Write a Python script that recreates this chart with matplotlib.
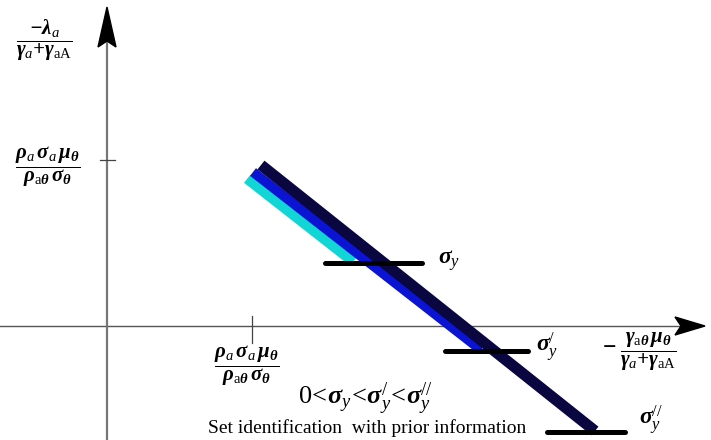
import matplotlib
matplotlib.use("Agg")
import matplotlib.pyplot as plt
from matplotlib.patches import Polygon

plt.rcParams['mathtext.fontset'] = 'custom'
plt.rcParams['mathtext.rm'] = 'Liberation Serif'
plt.rcParams['mathtext.it'] = 'Liberation Serif:italic'
plt.rcParams['mathtext.bf'] = 'Liberation Serif:bold:italic'
plt.rcParams['font.family'] = 'Liberation Serif'

# set-identification segments (origin at the axes crossing)
seg_names = ['sigma_y', 'sigma_y_prime', 'sigma_y_dprime']
seg_x0 = [140, 146, 154]
seg_y0 = [147, 154, 161]
seg_x1 = [246, 374, 488]
seg_y1 = [64, -24, -105]
seg_colors = ['#12d6d6', '#0c14d4', '#0a0640']
seg_widths = [7.0, 7.0, 8.0]

# horizontal bars for the three sigma levels
bar_x0 = [218, 338, 440]
bar_x1 = [315, 421, 518]
bar_y = [63, -25, -106]
bar_label_dx = [16, 8, 14]
bar_label_dy = [2, 4, 12]
bar_labels = [r'$\mathbf{\sigma}_{\mathit{y}}$',
              r"$\mathbf{\sigma}_{\mathit{y}}^{\mathrm{/}}$",
              r"$\mathbf{\sigma}_{\mathit{y}}^{\mathrm{//}}$"]

xtick_pos = 145
ytick_pos = 166

fig = plt.figure(figsize=(7.11, 4.40), dpi=100)
ax = fig.add_axes([0, 0, 1, 1])
ax.set_xlim(-107, 604)
ax.set_ylim(-114, 326)
ax.axis('off')

# axes
ax.plot([-107, 575], [0, 0], color='#555555', lw=1.0, zorder=1)
ax.plot([0, 0], [-114, 285], color='#777777', lw=1.6, zorder=1)
ax.add_patch(Polygon([[598, 0], [568, 9], [574, 0], [568, -9]], closed=True,
                     color='black', zorder=3))
ax.add_patch(Polygon([[0, 319], [-9, 279], [0, 285], [9, 279]], closed=True,
                     color='black', zorder=3))

# ticks
ax.plot([-7, 8], [ytick_pos, ytick_pos], color='#444444', lw=0.9)
ax.plot([xtick_pos, xtick_pos], [10, -17], color='#444444', lw=0.9)

# segments
for x0, y0, x1, y1, c, w in zip(seg_x0, seg_y0, seg_x1, seg_y1, seg_colors, seg_widths):
    ax.plot([x0, x1], [y0, y1], color=c, lw=w, solid_capstyle='butt', zorder=2)

for x0, x1, y, lab, dx, dy in zip(bar_x0, bar_x1, bar_y, bar_labels, bar_label_dx, bar_label_dy):
    ax.plot([x0, x1], [y, y], color='black', lw=3.6, solid_capstyle='round', zorder=4)
    ax.text(x1 + dx, y + dy, lab, fontsize=17, ha='left', va='center')

# axis labels
ylab = r'$\dfrac{\mathbf{-\lambda}_{\mathit{a}}}{\mathbf{\gamma}_{\mathit{a}}\mathbf{+\gamma}_{\mathrm{aA}}}$'
tlab = r'$\dfrac{\mathbf{\rho}_{\mathit{a}}\,\mathbf{\sigma}_{\mathit{a}}\,\mathbf{\mu_\theta}}{\mathbf{\rho}_{\mathrm{a}\mathbf{\theta}}\,\mathbf{\sigma_\theta}}$'
xlab = r'$\dfrac{\mathbf{\gamma}_{\mathrm{a}\mathbf{\theta}}\,\mathbf{\mu_\theta}}{\mathbf{\gamma}_{\mathit{a}}\mathbf{+\gamma}_{\mathrm{aA}}}$'
ax.text(-63, 286, ylab, fontsize=15, ha='center', va='center')
ax.text(-59, 159, tlab, fontsize=15, ha='center', va='center')
ax.text(140, -40, tlab, fontsize=15, ha='center', va='center')
ax.text(502, -22, '\u2212', fontsize=17, fontweight='bold', ha='center', va='center')
ax.text(541, -26, xlab, fontsize=15, ha='center', va='center')

ax.text(191, -72, r"$\mathrm{0}\!<\!\mathbf{\sigma}_{\mathit{y}}\!<\!\mathbf{\sigma}_{\mathit{y}}^{\mathrm{/}}\!<\!\mathbf{\sigma}_{\mathit{y}}^{\mathrm{//}}$",
        fontsize=19, ha='left', va='center')
ax.text(260, -102, 'Set identification  with prior information', fontsize=14,
        ha='center', va='center')

fig.savefig('out.png', dpi=100)
